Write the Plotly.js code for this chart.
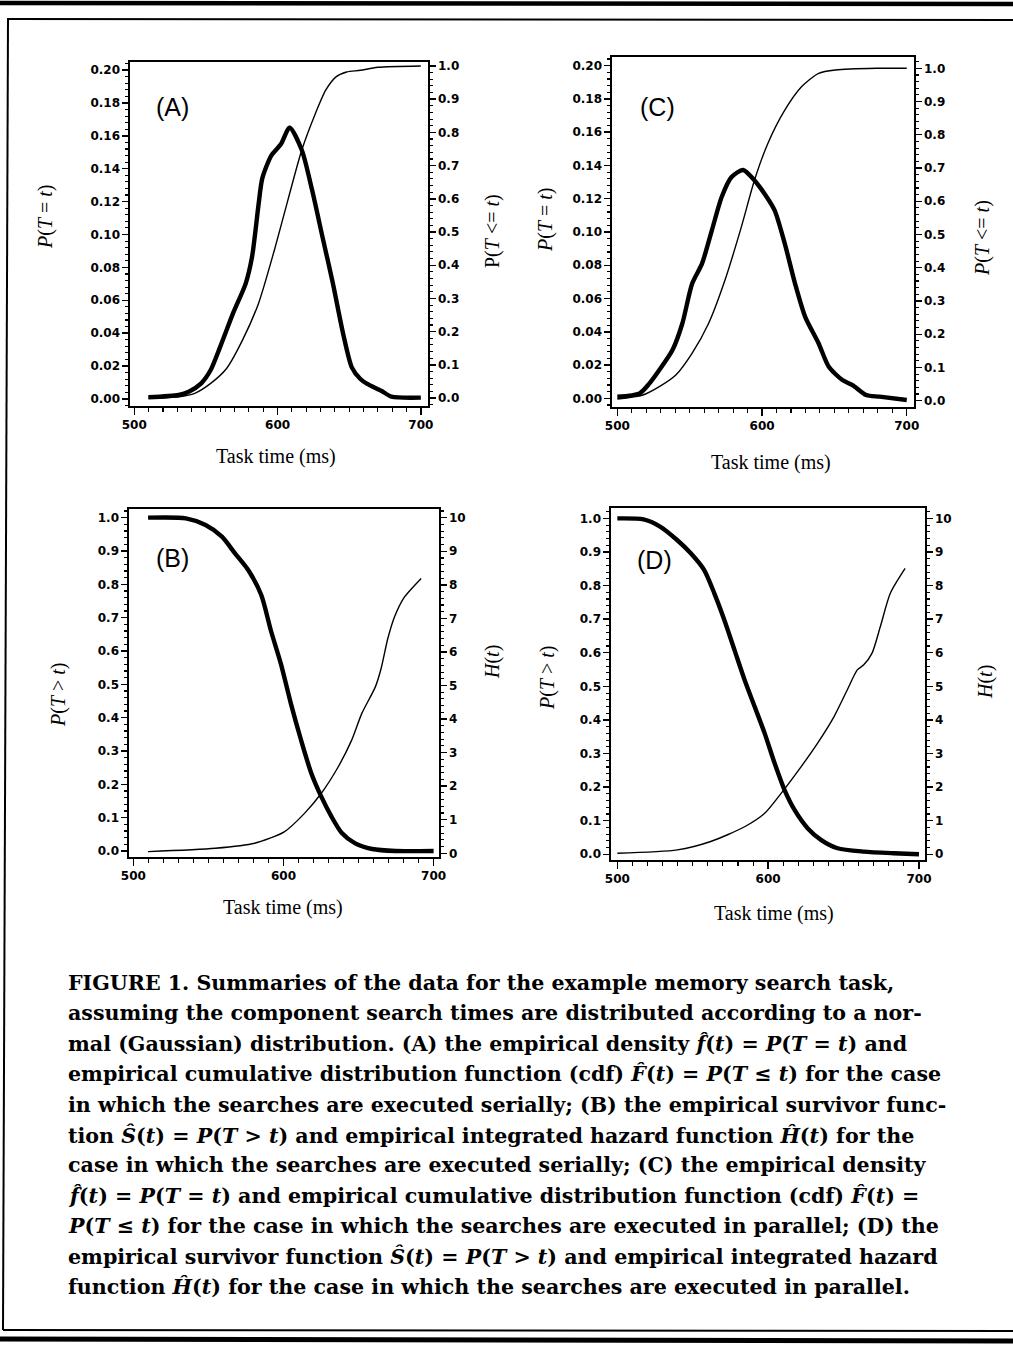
<!DOCTYPE html>
<html><head><meta charset="utf-8">
<script src="https://cdn.plot.ly/plotly-3.0.1.min.js"></script>
<style>body{margin:0;background:#fff}#chart{width:1013px;height:1357px}</style>
</head><body><div id="chart"></div>
<script>
// ---------- DATA ----------
// Panel A: serial, density and cdf
const timeA_density = [509.8,531,538,546.7,553.3,560,568.9,577.8,582.2,586.7,589.3,595.6,602.4,608.4,616.9,624.1,631.3,638.6,645.8,651.8,657.8,662.6,672.3,679.5,700];
const densityA      = [0.001,0.0024,0.0044,0.0095,0.0176,0.0318,0.052,0.0703,0.0865,0.118,0.134,0.148,0.155,0.165,0.1514,0.127,0.0987,0.0703,0.0395,0.0192,0.0121,0.0091,0.005,0.0014,0.0008];
const timeA_cdf     = [510,531.1,542.2,553.3,564.4,575.6,586.7,597.8,607.2,616.9,626.5,633.7,641,648.2,657.8,669.9,700];
const cdfA          = [0.0,0.004,0.014,0.044,0.089,0.175,0.285,0.446,0.596,0.747,0.858,0.928,0.968,0.982,0.987,0.996,1.0];
// Panel B: serial, survivor and integrated hazard
const timeB_surv    = [509.8,535,548.1,559,567.7,576.5,585.2,591.7,598.2,604.9,611.7,618.4,625.2,632,638.7,647.8,659,674.8,700];
const survivorB     = [1.0,0.998,0.978,0.943,0.893,0.843,0.768,0.66,0.563,0.443,0.333,0.235,0.163,0.103,0.055,0.023,0.006,0.0,0.0];
const timeB_haz     = [509.8,554.6,580.8,600.5,614,625.2,636.5,645.5,652.2,661.2,665,669.5,674,680,691.7];
const hazardB       = [0.05,0.15,0.3,0.64,1.19,1.79,2.58,3.38,4.17,4.96,5.5,6.4,7.05,7.6,8.19];
// Panel C: parallel, density and cdf
const timeC_density = [500,515.4,522.2,529,538.1,544.9,551.7,558.5,565.3,572.1,578.9,586.9,594.8,601.7,608.7,615.7,622.8,629.8,639.1,646.1,655.5,662.5,671.9,681.2,700];
const densityC      = [0.001,0.003,0.009,0.017,0.029,0.045,0.069,0.081,0.101,0.121,0.133,0.1373,0.131,0.123,0.113,0.093,0.069,0.049,0.033,0.019,0.011,0.008,0.002,0.001,-0.001];
const timeC_cdf     = [500,517.7,529,540.4,551.7,563.1,574.4,585.7,594.8,604,615.7,627.4,639.1,650.8,678.9,700];
const cdfC          = [0.005,0.017,0.042,0.077,0.143,0.233,0.363,0.523,0.664,0.774,0.874,0.945,0.985,0.995,1.0,1.0];
// Panel D: parallel, survivor and integrated hazard
const timeD_surv    = [500,517.4,528.6,539.8,548.7,557.6,564.3,571,577.7,584.4,591.1,597.7,604.3,610.9,617.5,626.3,635,646,663.4,683.1,700];
const survivorD     = [1.0,0.997,0.975,0.935,0.896,0.846,0.777,0.697,0.608,0.519,0.439,0.360,0.271,0.191,0.132,0.077,0.043,0.018,0.008,0.003,0.0];
const timeD_haz     = [500,539.8,561.9,584.4,597.7,608.7,621.9,632.8,643.7,652.5,659.1,663.4,668.9,674.4,681,690.8];
const hazardD       = [0.03,0.13,0.38,0.82,1.22,1.82,2.61,3.31,4.10,4.90,5.49,5.64,5.99,6.78,7.77,8.51];

// Tick labels / texts
const xTicks = [500,600,700];
const panelLabels = ['(A)','(B)','(C)','(D)'];
const xTitle = 'Task time (ms)';
const yTitlesLeft  = ['<i>P</i>(<i>T</i> = <i>t</i>)','<i>P</i>(<i>T</i> &gt; <i>t</i>)','<i>P</i>(<i>T</i> = <i>t</i>)','<i>P</i>(<i>T</i> &gt; <i>t</i>)'];
const yTitlesRight = ['P(<i>T</i> &lt;= <i>t</i>)','<i>H</i>(<i>t</i>)','<i>P</i>(<i>T</i> &lt;= <i>t</i>)','<i>H</i>(<i>t</i>)'];
const captionLines = [
 'FIGURE 1. Summaries of the data for the example memory search task,',
 'assuming the component search times are distributed according to a nor-',
 'mal (Gaussian) distribution. (A) the empirical density <i>f\u0302</i>(<i>t</i>) = <i>P</i>(<i>T</i> = <i>t</i>) and',
 'empirical cumulative distribution function (cdf) <i>F\u0302</i>(<i>t</i>) = <i>P</i>(<i>T</i> \u2264 <i>t</i>) for the case',
 'in which the searches are executed serially; (B) the empirical survivor func-',
 'tion <i>\u015C</i>(<i>t</i>) = <i>P</i>(<i>T</i> &gt; <i>t</i>) and empirical integrated hazard function <i>\u0124</i>(<i>t</i>) for the',
 'case in which the searches are executed serially; (C) the empirical density',
 '<i>f\u0302</i>(<i>t</i>) = <i>P</i>(<i>T</i> = <i>t</i>) and empirical cumulative distribution function (cdf) <i>F\u0302</i>(<i>t</i>) =',
 '<i>P</i>(<i>T</i> \u2264 <i>t</i>) for the case in which the searches are executed in parallel; (D) the',
 'empirical survivor function <i>\u015C</i>(<i>t</i>) = <i>P</i>(<i>T</i> &gt; <i>t</i>) and empirical integrated hazard',
 'function <i>\u0124</i>(<i>t</i>) for the case in which the searches are executed in parallel.'
];

// ---------- LAYOUT ----------
const W = 1013, H = 1357;
const fx = p => p / W, fy = p => 1 - p / H;

const panels = [
 {box:[130,62,428,406], xr:[497,705],   yl:[-0.0043,0.2049], yr:[-0.024,1.012], ldt:0.02, lmin:0.004, lfmt:'.2f', rdt:0.1, rmin:0.02, rfmt:'.1f',
  thick:[timeA_density,densityA], thin:[timeA_cdf,cdfA], lab:[172,107], xt:[276,456], ylt:[46,217], yrt:[492,231], li:0},
 {box:[129,509,439,857], xr:[497.1,703.6], yl:[-0.018,1.026], yr:[-0.11,10.26], ldt:0.1, lmin:0.02, lfmt:'.1f', rdt:1, rmin:0.2, rfmt:'d',
  thick:[timeB_surv,survivorB], thin:[timeB_haz,hazardB], lab:[172,558], xt:[283,907], ylt:[58,695], yrt:[492,662], li:1},
 {box:[612,57,914,407], xr:[496.3,705],  yl:[-0.0052,0.2052], yr:[-0.019,1.034], ldt:0.02, lmin:0.004, lfmt:'.2f', rdt:0.1, rmin:0.02, rfmt:'.1f',
  thick:[timeC_density,densityC], thin:[timeC_cdf,cdfC], lab:[657,107], xt:[771,462], ylt:[546,220], yrt:[982,238], li:2},
 {box:[611,508,925,860], xr:[495.8,704],  yl:[-0.017,1.031], yr:[-0.17,10.31], ldt:0.1, lmin:0.02, lfmt:'.1f', rdt:1, rmin:0.2, rfmt:'d',
  thick:[timeD_surv,survivorD], thin:[timeD_haz,hazardD], lab:[654,560], xt:[774,913], ylt:[547,678], yrt:[985,682], li:3}
];

const tickFont = {family:'DejaVu Sans', size:12, color:'#000', weight:'bold'};
const layout = {width:W, height:H, margin:{l:0,r:0,t:0,b:0}, paper_bgcolor:'#fff', plot_bgcolor:'#fff',
  showlegend:false, annotations:[], shapes:[]};
const traces = [];

panels.forEach((p,i) => {
  const xn = i===0 ? '' : String(i+1);
  const yl = 2*i+1, yr = 2*i+2;
  const ylN = yl===1 ? '' : String(yl);
  const dom = {x:[fx(p.box[0]), fx(p.box[2])], y:[fy(p.box[3]), fy(p.box[1])]};
  layout['xaxis'+xn] = {domain:dom.x, range:p.xr, anchor:'y'+ylN, showline:true, mirror:true, linecolor:'#000', linewidth:1.6,
    ticks:'outside', ticklen:7, tickwidth:1.4, tickcolor:'#000', tickvals:xTicks, tickfont:tickFont,
    showgrid:false, zeroline:false, fixedrange:true,
    minor:{dtick:10, tick0:500, ticklen:4, tickwidth:1.1, tickcolor:'#000', ticks:'outside', showgrid:false}};
  layout['yaxis'+ylN] = {domain:dom.y, range:p.yl, anchor:'x'+xn, showline:true, linecolor:'#000', linewidth:1.6,
    ticks:'outside', ticklen:6, tickwidth:1.4, tickcolor:'#000', dtick:p.ldt, tick0:0, tickformat:p.lfmt, tickfont:tickFont,
    showgrid:false, zeroline:false, fixedrange:true,
    minor:{dtick:p.lmin, tick0:0, ticklen:3, tickwidth:1.1, tickcolor:'#000', ticks:'outside', showgrid:false}};
  layout['yaxis'+yr] = {overlaying:'y'+ylN, side:'right', anchor:'x'+xn, range:p.yr, showline:true, linecolor:'#000', linewidth:1.6,
    ticks:'outside', ticklen:6, tickwidth:1.4, tickcolor:'#000', dtick:p.rdt, tick0:0, tickformat:p.rfmt, tickfont:tickFont,
    showgrid:false, zeroline:false, fixedrange:true,
    minor:{dtick:p.rmin, tick0:0, ticklen:3, tickwidth:1.1, tickcolor:'#000', ticks:'outside', showgrid:false}};
  traces.push({x:p.thick[0], y:p.thick[1], xaxis:'x'+xn, yaxis:'y'+ylN, type:'scatter', mode:'lines',
    line:{color:'#000', width:4.4, shape:'spline', smoothing:0.7}, hoverinfo:'skip'});
  traces.push({x:p.thin[0], y:p.thin[1], xaxis:'x'+xn, yaxis:'y'+yr, type:'scatter', mode:'lines',
    line:{color:'#000', width:1.4, shape:'spline', smoothing:0.7}, hoverinfo:'skip'});
  const serif = {family:'Liberation Serif', size:20, color:'#000'};
  layout.annotations.push({xref:'paper', yref:'paper', x:fx(p.lab[0]), y:fy(p.lab[1]), text:panelLabels[p.li], showarrow:false,
    font:{family:'Liberation Sans', size:25, color:'#000'}, xanchor:'center', yanchor:'middle'});
  layout.annotations.push({xref:'paper', yref:'paper', x:fx(p.xt[0]), y:fy(p.xt[1]), text:xTitle, showarrow:false,
    font:serif, xanchor:'center', yanchor:'middle'});
  layout.annotations.push({xref:'paper', yref:'paper', x:fx(p.ylt[0]), y:fy(p.ylt[1]), text:yTitlesLeft[p.li], showarrow:false,
    font:serif, textangle:-90, xanchor:'center', yanchor:'middle'});
  layout.annotations.push({xref:'paper', yref:'paper', x:fx(p.yrt[0]), y:fy(p.yrt[1]), text:yTitlesRight[p.li], showarrow:false,
    font:serif, textangle:-90, xanchor:'center', yanchor:'middle'});
});

// caption
captionLines.forEach((t,k) => {
  layout.annotations.push({xref:'paper', yref:'paper', x:fx(66), y:fy(983 + 30.4*k), text:'<b>'+t+'</b>', showarrow:false,
    font:{family:'DejaVu Serif', size:20.6, color:'#000'}, xanchor:'left', yanchor:'middle', align:'left'});
});

// frame rules
const ln = (x0,y0,x1,y1,w) => ({type:'line', xref:'paper', yref:'paper', x0:fx(x0), y0:fy(y0), x1:fx(x1), y1:fy(y1), line:{color:'#000', width:w}});
layout.shapes.push(ln(0,3,1013,4,4.5));
layout.shapes.push(ln(7,19,1013,20,2));
layout.shapes.push(ln(8,19,3,1330,2));
layout.shapes.push(ln(3,1330,1013,1331,2));
layout.shapes.push(ln(0,1339,1013,1341,5));

Plotly.newPlot('chart', traces, layout, {staticPlot:true, displayModeBar:false});
</script></body></html>
